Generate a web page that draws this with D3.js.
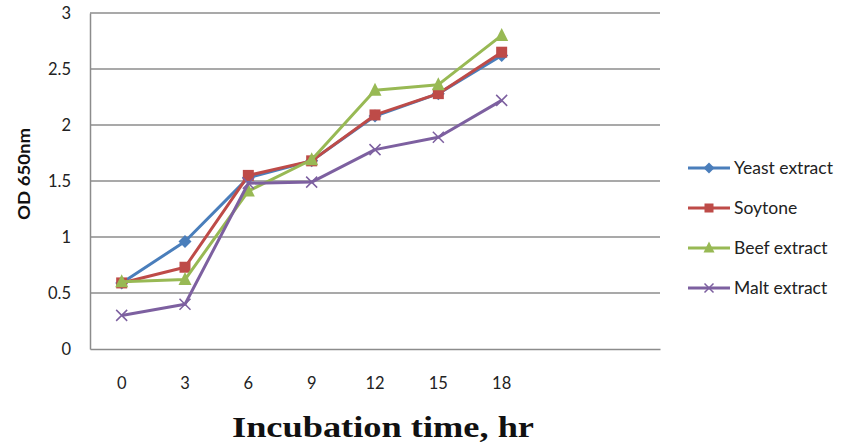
<!DOCTYPE html>
<html>
<head>
<meta charset="utf-8">
<script src="https://cdn.jsdelivr.net/npm/d3@7"></script>
<style>
  html, body { margin: 0; padding: 0; background: #fff; }
  svg { display: block; }
</style>
</head>
<body>
<svg id="chart" width="844" height="445"></svg>
<script>
// Incubation time categories (two trailing empty slots on the category axis)
const categories = ["0", "3", "6", "9", "12", "15", "18", "", " "];
const times = ["0", "3", "6", "9", "12", "15", "18"];

// OD 650nm readings per medium
const yeastExtract = [0.59, 0.96, 1.53, 1.68, 2.08, 2.28, 2.62];
const soytone      = [0.59, 0.73, 1.55, 1.68, 2.09, 2.28, 2.65];
const beefExtract  = [0.60, 0.62, 1.41, 1.69, 2.31, 2.36, 2.80];
const maltExtract  = [0.30, 0.40, 1.48, 1.49, 1.78, 1.89, 2.22];

const yTicks = [0, 0.5, 1, 1.5, 2, 2.5, 3];
const yTickLabels = ["0", "0.5", "1", "1.5", "2", "2.5", "3"];

const series = [
  { name: "Yeast extract", values: yeastExtract, color: "#4a7ebb", marker: "diamond" },
  { name: "Soytone",       values: soytone,      color: "#be4b48", marker: "square" },
  { name: "Beef extract",  values: beefExtract,  color: "#98b954", marker: "triangle" },
  { name: "Malt extract",  values: maltExtract,  color: "#7d60a0", marker: "cross" }
];

const svg = d3.select("#chart");
const plot = { left: 90, right: 660, top: 13, bottom: 349 };
const labelFont = "Lato, 'Open Sans', sans-serif";

const x = d3.scaleBand().domain(categories).range([plot.left, plot.right]);
const xc = d => x(d) + x.bandwidth() / 2;
const y = d3.scaleLinear().domain([0, 3]).range([plot.bottom, plot.top]);

// Horizontal gridlines
svg.append("g")
  .selectAll("line")
  .data(yTicks.filter(t => t > 0))
  .join("line")
  .attr("x1", plot.left).attr("x2", plot.right)
  .attr("y1", d => y(d)).attr("y2", d => y(d))
  .attr("stroke", "#8c8c8c").attr("stroke-width", 1.5);

// Y axis
const yAxis = svg.append("g")
  .attr("transform", `translate(${plot.left},0)`)
  .call(d3.axisLeft(y).tickValues(yTicks)
    .tickFormat((d, i) => yTickLabels[i]).tickSize(0).tickPadding(19));
yAxis.select(".domain").attr("stroke", "#8c8c8c").attr("stroke-width", 1.5);
yAxis.selectAll("text")
  .attr("font-family", labelFont)
  .attr("font-size", 16.5).attr("fill", "#222");

// X axis
const xAxis = svg.append("g")
  .attr("transform", `translate(0,${plot.bottom})`)
  .call(d3.axisBottom(x).tickSize(0).tickPadding(28));
xAxis.select(".domain").attr("stroke", "#8c8c8c").attr("stroke-width", 1.5);
xAxis.selectAll("text")
  .attr("font-family", labelFont)
  .attr("font-size", 16.5).attr("fill", "#222");

// Axis titles
svg.append("text")
  .attr("transform", "translate(30,174) rotate(-90)")
  .attr("text-anchor", "middle")
  .attr("font-family", labelFont)
  .attr("font-weight", "bold").attr("font-size", 17).attr("fill", "#111")
  .attr("textLength", 92).attr("lengthAdjust", "spacingAndGlyphs")
  .text("OD 650nm");

svg.append("text")
  .attr("x", 383).attr("y", 437)
  .attr("text-anchor", "middle")
  .attr("font-family", "'Liberation Serif', 'DejaVu Serif', serif")
  .attr("font-weight", "bold").attr("font-size", 29).attr("fill", "#111")
  .attr("textLength", 302).attr("lengthAdjust", "spacingAndGlyphs")
  .text("Incubation time, hr");

// Marker drawing
function drawMarker(g, type, color, size) {
  if (type === "diamond") {
    const h = size / 2 + 1;
    g.append("path").attr("d", `M0,${-h}L${h},0L0,${h}L${-h},0Z`)
      .attr("fill", color);
  } else if (type === "square") {
    g.append("rect").attr("x", -size / 2).attr("y", -size / 2)
      .attr("width", size).attr("height", size).attr("fill", color);
  } else if (type === "triangle") {
    const h = size / 2 + 1;
    g.append("path").attr("d", `M0,${-h - 1}L${h},${h - 1}L${-h},${h - 1}Z`)
      .attr("fill", color);
  } else {
    const h = size / 2;
    g.append("path").attr("d", `M${-h},${-h}L${h},${h}M${-h},${h}L${h},${-h}`)
      .attr("stroke", color).attr("stroke-width", 1.5).attr("fill", "none");
  }
}

const line = d3.line().x((d, i) => xc(times[i])).y(d => y(d));

series.forEach(s => {
  svg.append("path")
    .datum(s.values)
    .attr("d", line)
    .attr("fill", "none")
    .attr("stroke", s.color)
    .attr("stroke-width", 3)
    .attr("stroke-linejoin", "round");
  s.values.forEach((v, i) => {
    const g = svg.append("g").attr("transform", `translate(${xc(times[i])},${y(v)})`);
    drawMarker(g, s.marker, s.color, 11);
  });
});

// Legend
const legend = svg.append("g");
const legendY = [168, 208, 248, 288];
series.forEach((s, i) => {
  const g = legend.append("g").attr("transform", `translate(688,${legendY[i]})`);
  g.append("line").attr("x1", 0).attr("x2", 42).attr("y1", 0).attr("y2", 0)
    .attr("stroke", s.color).attr("stroke-width", 3);
  const m = g.append("g").attr("transform", "translate(21,0)");
  drawMarker(m, s.marker, s.color, 9);
  g.append("text").attr("x", 46).attr("y", 6)
    .attr("font-family", labelFont)
    .attr("font-size", 17.5).attr("fill", "#222")
    .text(s.name);
});
</script>
</body>
</html>
